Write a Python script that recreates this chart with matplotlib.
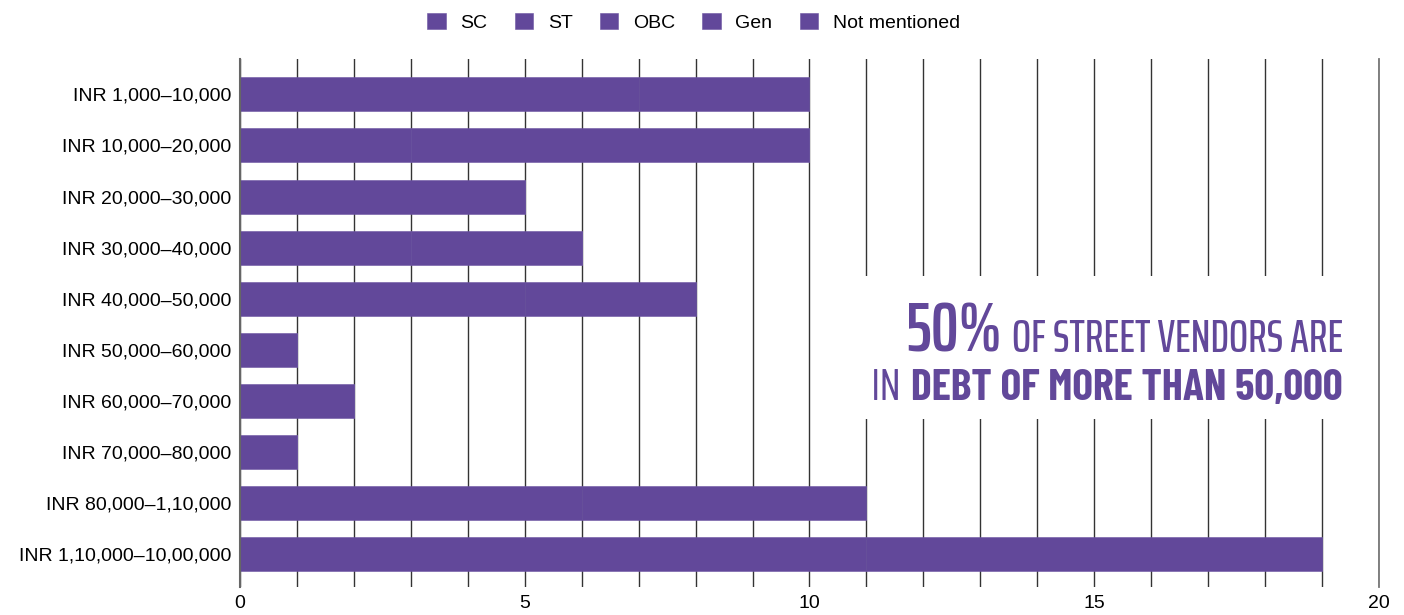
import numpy as np
import matplotlib
matplotlib.use("Agg")
import matplotlib.pyplot as plt
from matplotlib.patches import Rectangle

# データ
ranges = ['INR 1,000–10,000', 'INR 10,000–20,000', 'INR 20,000–30,000',
          'INR 30,000–40,000', 'INR 40,000–50,000', 'INR 50,000–60,000',
          'INR 60,000–70,000', 'INR 70,000–80,000', 'INR 80,000–1,10,000',
          'INR 1,10,000–10,00,000']
SC = [0, 3, 0, 3, 0, 0, 0, 1, 0, 0]
ST = [0, 0, 0, 0, 0, 0, 0, 0, 0, 0]
OBC = [7, 7, 5, 3, 5, 1, 2, 0, 6, 11]
Gen = [3, 0, 0, 0, 3, 0, 0, 0, 5, 8]
Not_mentioned = [0, 0, 0, 0, 0, 0, 0, 0, 0, 0]
series = {'SC': SC, 'ST': ST, 'OBC': OBC, 'Gen': Gen, 'Not mentioned': Not_mentioned}

purple = '#62489a'
saira = ['Saira ExtraCondensed', 'DejaVu Sans']
barlow = ['Barlow Condensed', 'DejaVu Sans']
plt.rcParams['font.family'] = ['Liberation Sans', 'DejaVu Sans']

W, H = 1404, 615
fig = plt.figure(figsize=(W / 100, H / 100), dpi=100)
ax = fig.add_axes([0.1709, 0.0455, 0.8113, 0.8585])

y = np.arange(len(ranges))
left = np.zeros(len(ranges))
for name, vals in series.items():
    ax.barh(y, vals, left=left, height=0.665, color=purple, edgecolor='#6c55a2',
            linewidth=0.4, label=name, zorder=3)
    left += np.array(vals)

ax.set_xlim(0, 20)
ax.set_ylim(9.64, -0.69)
ax.set_yticks(y)
ax.set_yticklabels(ranges, fontsize=14)
ax.set_xticks(range(0, 21, 5))
ax.set_xticks(range(0, 21), minor=True)
ax.tick_params(axis='x', which='both', length=0, labelsize=14, pad=6)
ax.tick_params(axis='y', length=0, pad=6.5)
ax.grid(axis='x', which='both', color='#333333', linewidth=1, zorder=0)
for s in ax.spines.values():
    s.set_visible(False)
ax.spines['left'].set_visible(True)
ax.spines['left'].set_color('#666666')
ax.spines['left'].set_linewidth(1.5)
ax.spines['left'].set_zorder(4)
ax.spines['right'].set_visible(True)
ax.spines['right'].set_color('#777777')
ax.spines['right'].set_linewidth(1.3)

# テキスト背後の白い箱
ax.add_patch(Rectangle((10.55, 3.55), 9.1, 2.8, facecolor='white', edgecolor='none', zorder=2))

fig.legend(loc='center', bbox_to_anchor=(0.494, 0.964), ncol=5, frameon=False,
           fontsize=14, handlelength=0.95, handleheight=0.95, handletextpad=0.75,
           columnspacing=1.4)

# 注釈テキスト (右揃えで2つの部分を並べる)
renderer = fig.canvas.get_renderer()
xr = 1343 / W

def two_part(y_px, right, left_txt, rsize, rweight, rfam, lsize, lweight, lfam):
    t = fig.text(xr, 1 - y_px / H, right, ha='right', va='baseline', color=purple,
                 fontsize=rsize, fontweight=rweight, family=rfam)
    bb = t.get_window_extent(renderer)
    fig.text((bb.x0 - 10) / W, 1 - y_px / H, left_txt, ha='right', va='baseline',
             color=purple, fontsize=lsize, fontweight=lweight, family=lfam)

two_part(352, 'OF STREET VENDORS ARE', '50%', 32.5, 'medium', saira, 50, 'semibold', saira)
two_part(400, 'DEBT OF MORE THAN 50,000', 'IN', 31.5, 'bold', barlow, 31.5, 'normal', barlow)

fig.savefig('out.png', dpi=100)
